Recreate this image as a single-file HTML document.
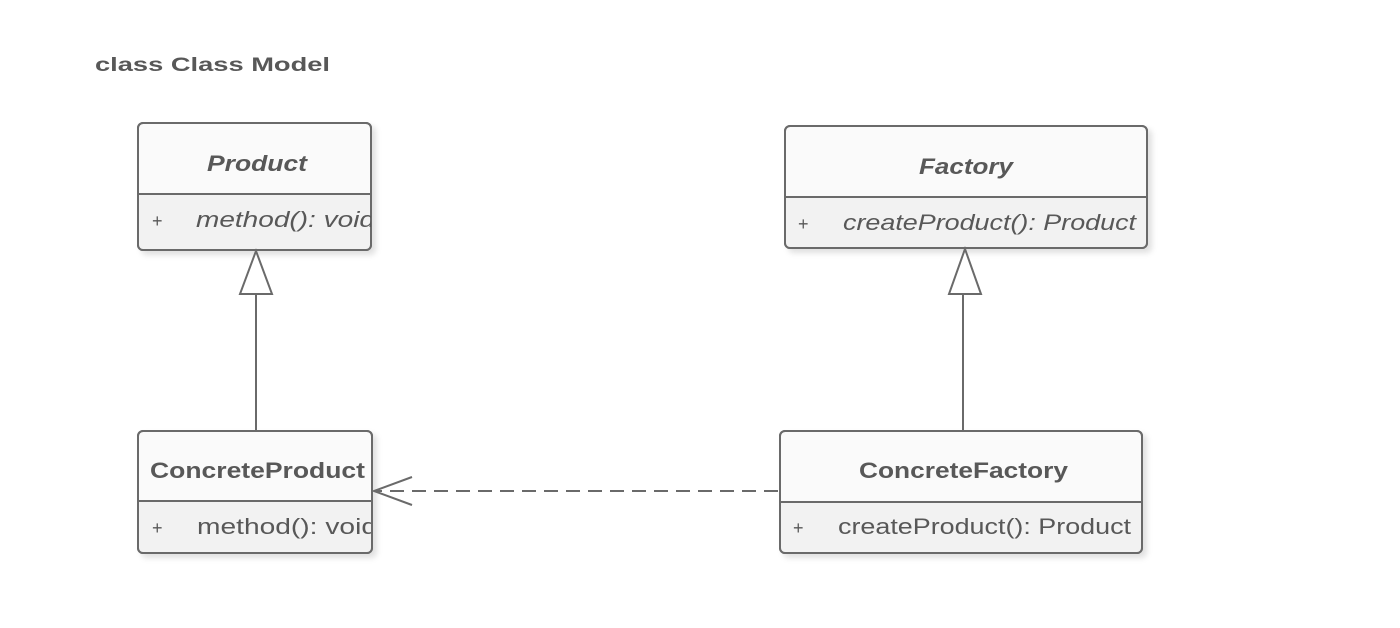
<!DOCTYPE html>
<html><head><meta charset="utf-8"><style>
html,body{margin:0;padding:0;background:#fff;}
svg{display:block}
text{font-family:"Liberation Sans",Arial,sans-serif;fill:#585858}
</style></head><body>
<svg width="1400" height="628" viewBox="0 0 1400 628" xmlns="http://www.w3.org/2000/svg">
<defs>
<filter id="sh" x="-5%" y="-5%" width="115%" height="120%"><feDropShadow dx="4" dy="4" stdDeviation="3" flood-color="#000" flood-opacity="0.12"/></filter>
<clipPath id="c1"><rect x="138" y="190" width="233" height="60"/></clipPath>
<clipPath id="c2"><rect x="138" y="500" width="233" height="60"/></clipPath>
</defs>
<text x="95" y="71" font-size="19" font-weight="bold" fill="#666" textLength="235" lengthAdjust="spacingAndGlyphs">class Class Model</text>

<g stroke="#6a6a6a" stroke-width="2">
<rect x="138" y="123" width="233" height="127" rx="5" fill="#fafafa" filter="url(#sh)"/>
<rect x="139" y="194" width="231" height="55" fill="#f2f2f2" stroke="none"/>
<rect x="138" y="123" width="233" height="127" rx="5" fill="none"/>
<line x1="138" y1="194" x2="371" y2="194"/>

<rect x="785" y="126" width="362" height="122" rx="5" fill="#fafafa" filter="url(#sh)"/>
<rect x="786" y="197" width="360" height="50" fill="#f2f2f2" stroke="none"/>
<rect x="785" y="126" width="362" height="122" rx="5" fill="none"/>
<line x1="785" y1="197" x2="1147" y2="197"/>

<rect x="138" y="431" width="234" height="122" rx="5" fill="#fafafa" filter="url(#sh)"/>
<rect x="139" y="501" width="232" height="51" fill="#f2f2f2" stroke="none"/>
<rect x="138" y="431" width="234" height="122" rx="5" fill="none"/>
<line x1="138" y1="501" x2="372" y2="501"/>

<rect x="780" y="431" width="362" height="122" rx="5" fill="#fafafa" filter="url(#sh)"/>
<rect x="781" y="502" width="360" height="50" fill="#f2f2f2" stroke="none"/>
<rect x="780" y="431" width="362" height="122" rx="5" fill="none"/>
<line x1="780" y1="502" x2="1142" y2="502"/>

<line x1="256" y1="294" x2="256" y2="431"/>
<polygon points="256,251 240,294 272,294" fill="#fff"/>
<line x1="963" y1="294" x2="963" y2="431"/>
<polygon points="965,249 949,294 981,294" fill="#fff"/>

<line x1="778" y1="491" x2="376" y2="491" stroke-dasharray="14,8"/>
<polyline points="412,477 374,491 412,505" fill="none"/>
</g>

<text x="207" y="171" font-size="22" font-weight="bold" font-style="italic" textLength="100" lengthAdjust="spacingAndGlyphs">Product</text>
<text x="152" y="227" font-size="18" fill="#777">+</text>
<text x="196" y="227" font-size="22" font-style="italic" fill="#777" clip-path="url(#c1)" textLength="179" lengthAdjust="spacingAndGlyphs">method(): void</text>

<text x="919" y="174" font-size="22" font-weight="bold" font-style="italic" textLength="94" lengthAdjust="spacingAndGlyphs">Factory</text>
<text x="798" y="230" font-size="18" fill="#777">+</text>
<text x="843" y="230" font-size="22" font-style="italic" fill="#777" textLength="293" lengthAdjust="spacingAndGlyphs">createProduct(): Product</text>

<text x="150" y="478" font-size="22" font-weight="bold" textLength="215" lengthAdjust="spacingAndGlyphs">ConcreteProduct</text>
<text x="152" y="534" font-size="18" fill="#777">+</text>
<text x="197" y="534" font-size="22" fill="#777" clip-path="url(#c2)" textLength="180" lengthAdjust="spacingAndGlyphs">method(): void</text>

<text x="859" y="478" font-size="22" font-weight="bold" textLength="209" lengthAdjust="spacingAndGlyphs">ConcreteFactory</text>
<text x="793" y="534" font-size="18" fill="#777">+</text>
<text x="838" y="534" font-size="22" fill="#777" textLength="293" lengthAdjust="spacingAndGlyphs">createProduct(): Product</text>
</svg>
</body></html>
